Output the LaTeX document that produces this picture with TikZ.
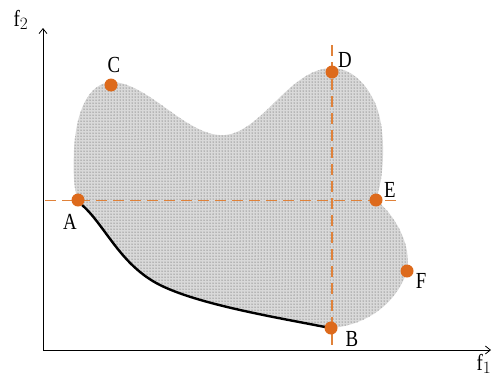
\documentclass[tikz,border=0pt]{standalone}
\usepackage{fontspec}
\setmainfont[FakeStretch=0.82]{Liberation Serif}
\usetikzlibrary{patterns,arrows.meta}
\definecolor{ptorange}{HTML}{DD6A1C}
\definecolor{dashorange}{HTML}{E0823A}
\tikzset{
  pt/.style={circle,fill=ptorange,inner sep=0pt,minimum size=13pt},
  lbl/.style={font=\fontsize{23}{26}\selectfont,inner sep=0pt},
  guide/.style={dashorange,line width=1.4pt,dash pattern=on 11pt off 6pt},
  vdash/.style={fill=dashorange}
}
\begin{document}
\begin{tikzpicture}[x=1pt,y=-1pt]
\useasboundingbox (0,0) rectangle (497,376);
% region
\def\region{(78,200) .. controls (105,225) and (120,265) .. (160,285)
  .. controls (200,305) and (280,318) .. (331,328)
  .. controls (370,325) and (398,300) .. (407,271)
  .. controls (412,245) and (395,215) .. (376,200)
  .. controls (386,170) and (386,120) .. (372,97)
  .. controls (362,78) and (347,68) .. (332,68)
  .. controls (290,68) and (262,132) .. (225,135)
  .. controls (188,138) and (150,84) .. (113,82)
  .. controls (88,82) and (76,112) .. (74,150)
  .. controls (73,175) and (74,190) .. (78,200) -- cycle}
\fill[gray!30] \region;
\fill[pattern=dots,pattern color=black!75] \region;
% axes
\coordinate (O) at (43,350);
\coordinate (Ytop) at (43,28);
\coordinate (Xend) at (491,350);
\draw[line width=0.8pt,-{Straight Barb[length=5pt,width=8pt]}] (O) -- (Ytop);
\draw[line width=0.8pt,-{Straight Barb[length=5pt,width=8pt]}] (O) -- (Xend);
\node[lbl] (f2) at (21,20) {f$_2$};
\node[lbl] (f1) at (484,364) {f$_1$};
% guides
\coordinate (hL) at (45,200.5);
\coordinate (hR) at (398,200.5);
\draw[guide] (hL) -- (hR);
\foreach \yy in {45,62,...,345}{
  \fill[vdash] (330.5,\yy) rectangle (332.5,{min(\yy+11,350)});
}
% front
\draw[line width=2.4pt] (82,205) .. controls (105,225) and (120,265) .. (160,285)
  .. controls (200,305) and (280,318) .. (325,327);
% points
\node[pt] (A) at (78,200) {};
\node[pt] (B) at (331,328) {};
\node[pt] (C) at (111,85) {};
\node[pt] (D) at (332,72) {};
\node[pt] (E) at (376,200) {};
\node[pt] (F) at (407,271) {};
\node[lbl] (lA) at (70,222) {A};
\node[lbl] (lB) at (352,339) {B};
\node[lbl] (lC) at (114,65) {C};
\node[lbl] (lD) at (345,60) {D};
\node[lbl] (lE) at (390,190) {E};
\node[lbl] (lF) at (421,281) {F};
\end{tikzpicture}
\end{document}
